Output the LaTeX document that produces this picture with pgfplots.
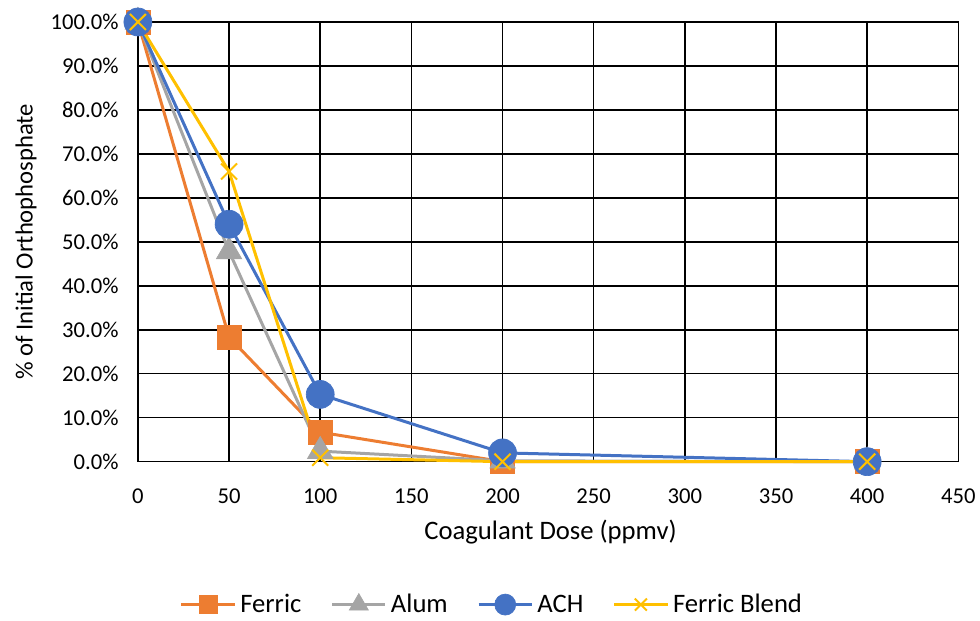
\documentclass[border=0pt]{standalone}
\usepackage{pgfplots}
\pgfplotsset{compat=1.18}
\usepackage{fontspec}
\setmainfont{Carlito}
\definecolor{cFerric}{HTML}{ED7D31}
\definecolor{cAlum}{HTML}{A5A5A5}
\definecolor{cACH}{HTML}{4472C4}
\definecolor{cBlend}{HTML}{FFC000}
\begin{document}
\begin{tikzpicture}
\begin{axis}[
  scale only axis,
  width=615.75pt, height=330pt,
  xmin=0, xmax=450, ymin=0, ymax=100,
  xtick={0,50,...,450}, ytick={0,10,...,100},
  grid=major,
  major grid style={black, line width=1.1pt},
  axis line style={black, line width=1.1pt},
  major tick length=0pt,
  clip=false,
  font=\fontsize{17}{20}\selectfont,
  /pgf/number format/assume math mode=true,
  yticklabel={\pgfmathprintnumber[fixed,fixed zerofill,precision=1]{\tick}\%},
  yticklabel style={xshift=-11pt},
  xticklabel style={yshift=-17pt},
  xlabel={Coagulant Dose (ppmv)},
  ylabel={\% of Initial Orthophosphate},
  xlabel style={at={(axis description cs:0.503,-0.161)}, anchor=center, font=\fontsize{20}{24}\selectfont},
  ylabel style={at={(axis description cs:-0.1364,0.5)}, anchor=center, font=\fontsize{18.5}{22}\selectfont},
  legend style={at={(axis description cs:0.432,-0.325)}, anchor=center,
    draw=none, legend columns=-1,
    /tikz/every odd column/.append style={column sep=1pt},
    /tikz/every even column/.append style={column sep=20pt},
    font=\fontsize{20}{24}\selectfont},
  legend image code/.code={
    \draw[mark repeat=2,mark phase=2, every mark/.append style={scale=0.75}] plot coordinates {(0pt,0pt) (20pt,0pt) (40pt,0pt)};
  },
]
\addplot[cFerric, line width=2.25pt, mark=square*, mark size=9pt, mark options={solid, line width=0.5pt}]
  coordinates {(0,100) (50,28.3) (100,6.7) (200,0) (400,0)};
\addlegendentry{Ferric}
\addplot[cAlum, line width=2.25pt, mark=triangle*, mark size=11pt, mark options={solid, line width=0.5pt}]
  coordinates {(0,100) (50,47.8) (100,2.4) (200,0.2) (400,0)};
\addlegendentry{Alum}
\addplot[cACH, line width=2.25pt, mark=*, mark size=10.5pt, mark options={solid, line width=0.5pt}]
  coordinates {(0,100) (50,54) (100,15.3) (200,2) (400,0)};
\addlegendentry{ACH}
\addplot[cBlend, line width=2.25pt, mark=x, mark size=8.5pt, mark options={solid, line width=1.5pt}]
  coordinates {(0,100) (50,66) (100,0.9) (200,0) (400,0)};
\addlegendentry{Ferric Blend}
\end{axis}
\path[use as bounding box] (-103.5pt,-117.75pt) rectangle (631.5pt,346.5pt);
\end{tikzpicture}
\end{document}
